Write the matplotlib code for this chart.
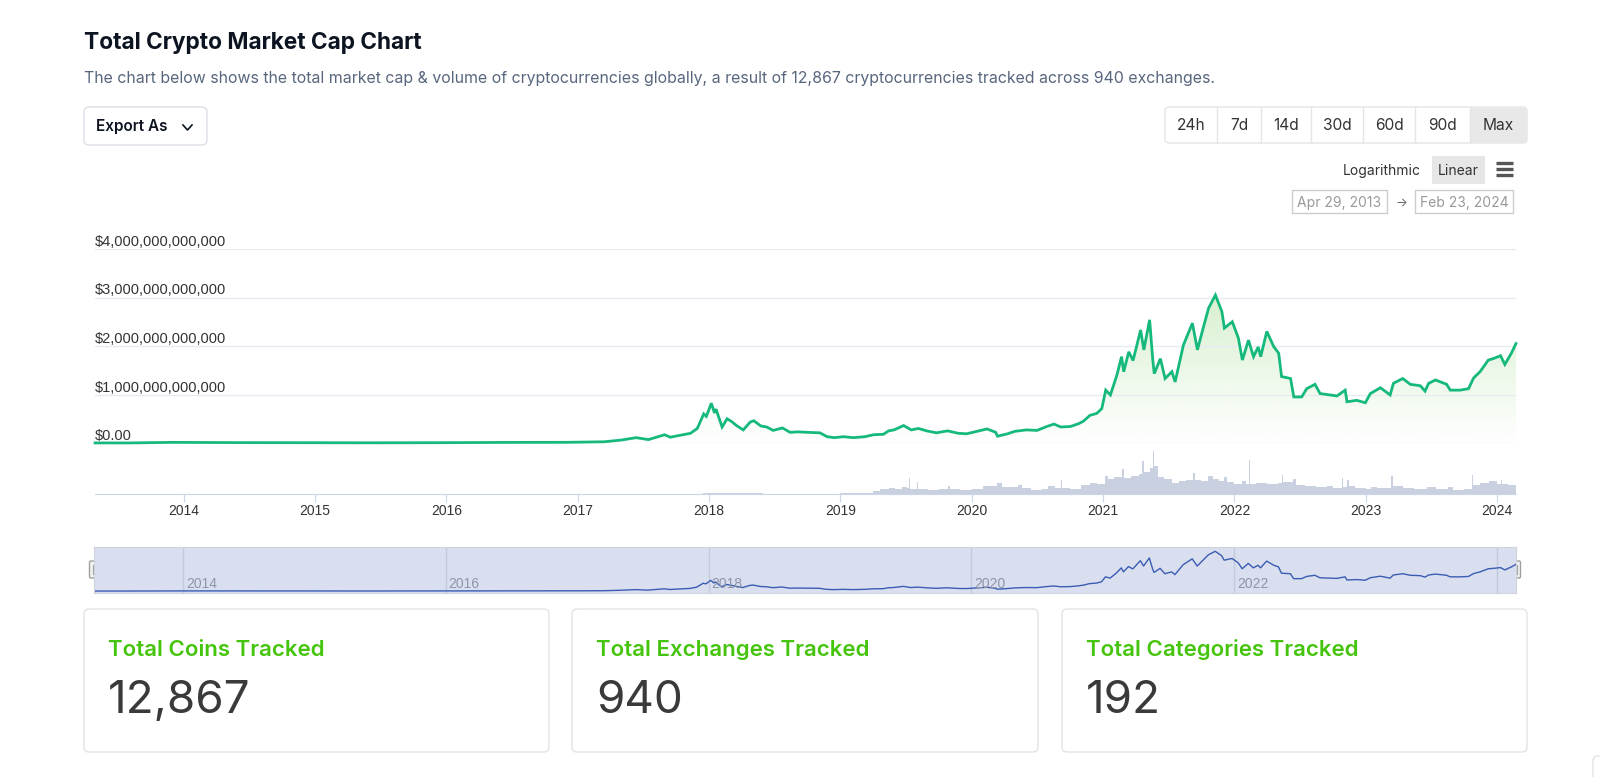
import numpy as np
import pandas as pd
import matplotlib
matplotlib.use('Agg')
import matplotlib.pyplot as plt
import matplotlib.dates as mdates
from matplotlib.patches import FancyBboxPatch, Rectangle
from matplotlib.ticker import FuncFormatter

# total market cap, trillions USD
cap_dates = ['2013-04-29', '2013-08-01', '2013-11-30', '2014-02-01', '2014-06-01', '2014-12-01',
             '2015-06-01', '2015-12-01', '2016-06-15', '2016-12-01', '2017-01-09', '2017-03-15',
             '2017-05-01', '2017-06-12', '2017-07-16', '2017-08-30', '2017-09-15', '2017-10-20',
             '2017-11-10', '2017-11-29', '2017-12-17', '2017-12-24', '2017-12-30', '2018-01-07',
             '2018-01-16', '2018-01-20', '2018-02-06', '2018-02-20', '2018-03-05', '2018-03-18',
             '2018-04-06', '2018-04-25', '2018-05-05', '2018-05-25', '2018-06-10', '2018-06-28',
             '2018-07-24', '2018-08-14', '2018-09-05', '2018-10-01', '2018-11-05', '2018-11-25',
             '2018-12-15', '2019-01-10', '2019-02-06', '2019-03-10', '2019-04-03', '2019-05-01',
             '2019-05-15', '2019-05-30', '2019-06-26', '2019-07-17', '2019-08-06', '2019-08-29',
             '2019-09-25', '2019-10-26', '2019-11-25', '2019-12-18', '2020-01-15', '2020-02-13',
             '2020-03-08', '2020-03-13', '2020-04-10', '2020-04-30', '2020-06-01', '2020-07-01',
             '2020-07-28', '2020-08-17', '2020-09-05', '2020-10-02', '2020-10-25', '2020-11-07',
             '2020-11-25', '2020-12-14', '2020-12-28', '2021-01-08', '2021-01-21', '2021-02-08',
             '2021-02-21', '2021-02-27', '2021-03-13', '2021-03-25', '2021-04-15', '2021-04-24',
             '2021-05-10', '2021-05-19', '2021-05-23', '2021-06-09', '2021-06-22', '2021-07-11',
             '2021-07-20', '2021-08-12', '2021-09-06', '2021-09-20', '2021-10-06', '2021-10-21',
             '2021-11-09', '2021-11-27', '2021-12-04', '2021-12-26', '2022-01-12', '2022-01-23',
             '2022-02-09', '2022-02-23', '2022-03-08', '2022-03-15', '2022-04-01', '2022-04-20',
             '2022-05-04', '2022-05-12', '2022-06-06', '2022-06-15', '2022-07-07', '2022-07-21',
             '2022-08-13', '2022-08-27', '2022-09-24', '2022-10-13', '2022-11-05', '2022-11-10',
             '2022-12-07', '2022-12-31', '2023-01-14', '2023-02-11', '2023-03-10', '2023-03-19',
             '2023-04-14', '2023-05-05', '2023-06-02', '2023-06-15', '2023-06-25', '2023-07-14',
             '2023-08-14', '2023-08-24', '2023-09-21', '2023-10-14', '2023-10-28', '2023-11-15',
             '2023-12-08', '2023-12-22', '2024-01-11', '2024-01-23', '2024-02-10', '2024-02-23']
cap_vals = [0.0015, 0.0013, 0.013, 0.011, 0.008, 0.005,
            0.004, 0.006, 0.012, 0.014, 0.018, 0.025,
            0.06, 0.11, 0.07, 0.17, 0.12, 0.17,
            0.20, 0.30, 0.60, 0.55, 0.66, 0.82,
            0.62, 0.70, 0.33, 0.50, 0.44, 0.36,
            0.27, 0.43, 0.46, 0.35, 0.33, 0.26,
            0.31, 0.22, 0.23, 0.22, 0.21, 0.13,
            0.11, 0.13, 0.11, 0.13, 0.17, 0.18,
            0.25, 0.27, 0.36, 0.27, 0.30, 0.25,
            0.21, 0.25, 0.20, 0.19, 0.24, 0.29,
            0.22, 0.14, 0.19, 0.24, 0.27, 0.26,
            0.34, 0.39, 0.33, 0.34, 0.40, 0.45,
            0.57, 0.61, 0.71, 1.09, 0.99, 1.40,
            1.78, 1.47, 1.88, 1.70, 2.33, 1.92,
            2.54, 1.70, 1.43, 1.74, 1.33, 1.47,
            1.26, 2.02, 2.47, 1.92, 2.37, 2.78,
            3.05, 2.71, 2.37, 2.50, 2.16, 1.71,
            2.12, 1.78, 1.98, 1.78, 2.30, 1.99,
            1.85, 1.37, 1.33, 0.95, 0.95, 1.12,
            1.21, 1.02, 0.99, 0.97, 1.09, 0.85,
            0.88, 0.83, 1.02, 1.14, 0.99, 1.23,
            1.33, 1.21, 1.18, 1.07, 1.23, 1.30,
            1.21, 1.09, 1.09, 1.12, 1.34, 1.47,
            1.71, 1.74, 1.80, 1.62, 1.85, 2.05]

# total volume, billions USD
vol_dates = ['2013-04-29', '2017-01-01', '2017-06-01', '2017-11-15', '2017-12-15', '2018-01-10',
             '2018-02-15', '2018-06-01', '2018-12-01', '2019-01-01', '2019-04-01', '2019-04-20',
             '2019-05-15', '2019-06-01', '2019-06-20', '2019-07-05', '2019-07-12', '2019-07-15',
             '2019-07-25', '2019-08-01', '2019-08-04', '2019-09-01', '2019-10-01', '2019-10-26',
             '2019-11-01', '2019-12-01', '2020-01-01', '2020-02-01', '2020-03-01', '2020-03-12',
             '2020-03-25', '2020-04-15', '2020-05-10', '2020-05-20', '2020-06-15', '2020-07-15',
             '2020-08-01', '2020-08-20', '2020-09-05', '2020-09-08', '2020-10-01', '2020-11-01',
             '2020-11-25', '2020-12-15', '2021-01-05', '2021-01-15', '2021-02-01', '2021-02-22',
             '2021-03-01', '2021-03-20', '2021-04-10', '2021-04-18', '2021-04-25', '2021-05-10',
             '2021-05-19', '2021-05-22', '2021-06-01', '2021-06-20', '2021-07-10', '2021-08-01',
             '2021-08-20', '2021-09-07', '2021-09-12', '2021-10-01', '2021-10-20', '2021-11-01',
             '2021-11-20', '2021-12-04', '2021-12-10', '2022-01-01', '2022-01-22', '2022-02-01',
             '2022-02-10', '2022-02-12', '2022-03-01', '2022-04-01', '2022-05-01', '2022-05-12',
             '2022-05-16', '2022-06-13', '2022-06-20', '2022-07-15', '2022-08-15', '2022-09-15',
             '2022-10-01', '2022-10-26', '2022-10-29', '2022-11-09', '2022-11-15', '2022-12-01',
             '2023-01-01', '2023-01-15', '2023-02-01', '2023-03-13', '2023-03-17', '2023-04-15',
             '2023-05-15', '2023-06-20', '2023-07-15', '2023-08-17', '2023-09-01', '2023-10-01',
             '2023-10-24', '2023-10-27', '2023-11-15', '2023-12-10', '2024-01-01', '2024-01-11',
             '2024-01-15', '2024-02-01', '2024-02-23']
vol_vals = [0, 1, 2, 5, 12, 15,
            8, 4, 4, 15, 30, 55,
            60, 50, 70, 60, 160, 55,
            50, 120, 50, 45, 50, 80,
            50, 40, 55, 85, 80, 110,
            75, 70, 90, 60, 45, 55,
            80, 65, 140, 60, 50, 90,
            110, 100, 180, 150, 170, 250,
            160, 180, 200, 330, 220, 260,
            430, 280, 170, 150, 110, 130,
            140, 210, 140, 130, 180, 150,
            130, 170, 120, 100, 130, 100,
            340, 100, 110, 100, 110, 190,
            120, 150, 90, 80, 70, 80,
            60, 160, 70, 140, 80, 60,
            50, 70, 60, 180, 80, 65,
            50, 70, 55, 70, 45, 55,
            190, 90, 110, 130, 100, 140,
            100, 90, 100]

year_ticks = list(range(2014, 2025))
nav_years = [2014, 2016, 2018, 2020, 2022, 2024]
nav_labels = ['2014', '2016', '2018', '2020', '2022']
range_buttons = ['24h', '7d', '14d', '30d', '60d', '90d', 'Max']
date_from, date_to = 'Apr 29, 2013', 'Feb 23, 2024'
card_titles = ['Total Coins Tracked', 'Total Exchanges Tracked', 'Total Categories Tracked']
card_values = ['12,867', '940', '192']

W, H = 1600, 777
UI = ['Inter', 'DejaVu Sans']
AX = ['Liberation Sans', 'DejaVu Sans']
GREEN = '#16b97c'

fig = plt.figure(figsize=(W / 100, H / 100), dpi=100)
fig.patch.set_facecolor('white')


def px_axes(x0, y0, x1, y1):
    return fig.add_axes([x0 / W, 1 - y1 / H, (x1 - x0) / W, (y1 - y0) / H])


# page layer in pixel coords for the surrounding UI
page = px_axes(0, 0, W, H)
page.set_xlim(0, W)
page.set_ylim(H, 0)
page.axis('off')


def box(x0, y0, x1, y1, ec='#e3e3e3', fc='white', r=4, lw=1.0, z=1):
    page.add_patch(FancyBboxPatch((x0, y0), x1 - x0, y1 - y0,
                                  boxstyle=f'round,pad=0,rounding_size={r}',
                                  ec=ec, fc=fc, lw=lw, zorder=z))


page.text(84, 43, 'Total Crypto Market Cap Chart', fontsize=16.3, fontweight='bold',
          color='#0d1421', va='center', family=UI)
page.text(84, 79, 'The chart below shows the total market cap & volume of cryptocurrencies globally, '
          'a result of 12,867 cryptocurrencies tracked across 940 exchanges.',
          fontsize=11.45, color='#58667e', va='center', family=UI)

# export button
box(84, 107, 207, 145, ec='#dcdfe6', r=5)
page.text(96, 127, 'Export As', fontsize=11, color='#0d1421', va='center', family=UI,
          fontweight='semibold')
page.plot([183, 187.5, 192], [125, 130, 125], color='#0d1421', lw=1.2)

# range buttons
edges = [1165, 1217, 1261, 1311, 1363, 1415, 1470, 1527]
box(edges[0], 107, edges[-1], 143, ec='#e5e5e5', r=4)
page.add_patch(Rectangle((edges[-2], 107.5), edges[-1] - edges[-2] - 0.5, 35, fc='#e8e8e8', ec='none', zorder=2))
for i, lab in enumerate(range_buttons):
    if i > 0:
        page.plot([edges[i], edges[i]], [107, 143], color='#e5e5e5', lw=1, zorder=3)
    page.text((edges[i] + edges[i + 1]) / 2, 126, lab, fontsize=11.2, color='#333333',
              ha='center', va='center', family=UI, zorder=4)

page.text(1421, 171, 'Logarithmic', fontsize=10, color='#333333', ha='right', va='center', family=UI)
page.add_patch(Rectangle((1432, 156), 53, 28, fc='#e6e6e6', ec='none'))
page.text(1458, 171, 'Linear', fontsize=10, color='#333333', ha='center', va='center', family=UI)
for yy in (163, 169, 175):
    page.plot([1496, 1513], [yy, yy], color='#555555', lw=2.4, solid_capstyle='butt')

page.add_patch(Rectangle((1292, 190), 95, 23, fc='white', ec='#cccccc', lw=1))
page.add_patch(Rectangle((1415, 190), 98, 23, fc='white', ec='#cccccc', lw=1))
page.text(1339.5, 203, date_from, fontsize=10, color='#999999', ha='center', va='center', family=UI)
page.text(1464, 203, date_to, fontsize=10, color='#999999', ha='center', va='center', family=UI)
page.text(1401, 203, '\u2192', fontsize=9, color='#666666', ha='center', va='center', family=UI)

# ---- main chart
x = mdates.date2num(pd.to_datetime(cap_dates))
y = np.array(cap_vals) * 1e12
xv = mdates.date2num(pd.to_datetime(vol_dates))
yv = np.array(vol_vals)
x0, x1 = mdates.date2num(pd.Timestamp('2013-04-29')), mdates.date2num(pd.Timestamp('2024-02-23'))

vol_ax = px_axes(95, 445, 1516, 494)
vol_ax.fill_between(xv, yv, 0, step='post', color='#c9d1e0', lw=0)
vol_ax.set_xlim(x0, x1)
vol_ax.set_ylim(0, 490)
vol_ax.set_facecolor('none')
for s in ['top', 'left', 'right']:
    vol_ax.spines[s].set_visible(False)
vol_ax.spines['bottom'].set_color('#ccd6eb')
vol_ax.set_yticks([])
vol_ax.set_xticks(mdates.date2num(pd.to_datetime([f'{yr}-01-01' for yr in year_ticks])))
vol_ax.set_xticklabels([str(yr) for yr in year_ticks], family=AX)
vol_ax.tick_params(axis='x', length=6, color='#ccd6eb', labelsize=10, labelcolor='#333333', pad=1.5)

cap_ax = px_axes(95, 249, 1516, 443)
cap_ax.set_facecolor('none')
poly = cap_ax.fill_between(x, y, 0, color='none', lw=0)
grad = np.zeros((256, 1, 4))
grad[..., 0], grad[..., 1], grad[..., 2] = 190 / 255, 230 / 255, 175 / 255
grad[..., 3] = np.linspace(0, 0.78, 256)[:, None]
img = cap_ax.imshow(grad, extent=[x0, x1, 0, 4e12], origin='lower', aspect='auto', zorder=1)
img.set_clip_path(poly.get_paths()[0], transform=cap_ax.transData)
cap_ax.plot(x, y, color=GREEN, lw=2.0, zorder=3, clip_on=False, solid_joinstyle='miter')
cap_ax.set_xlim(x0, x1)
cap_ax.set_ylim(0, 4e12)
cap_ax.set_yticks(np.arange(0, 5) * 1e12)
cap_ax.yaxis.set_major_formatter(FuncFormatter(lambda v, _: '$0.00' if v == 0 else f'${v:,.0f}'))
cap_ax.grid(axis='y', color='#e6ebf2', lw=1)
cap_ax.set_xticks([])
for s in cap_ax.spines.values():
    s.set_visible(False)
cap_ax.tick_params(axis='y', length=0, pad=0, labelsize=10.5, labelcolor='#333333')
for lab in cap_ax.get_yticklabels():
    lab.set_horizontalalignment('left')
    lab.set_verticalalignment('bottom')
    lab.set_family(AX)

# ---- navigator
nav = px_axes(94, 547, 1516, 593)
nav.set_facecolor('#d9dfef')
nav.plot(x, y, color='#3a5cb2', lw=1.0)
nav.set_xlim(x0, x1)
nav.set_ylim(-0.15e12, 3.38e12)
nav_x = mdates.date2num(pd.to_datetime([f'{yr}-01-01' for yr in nav_years]))
nav.set_xticks(nav_x)
nav.set_xticklabels([])
nav.set_yticks([])
nav.tick_params(axis='x', length=0)
nav.grid(axis='x', color='#c3cadb', lw=1)
for s in nav.spines.values():
    s.set_color('#cfd3dc')
for xx, lab in zip(nav_x, nav_labels):
    nav.annotate(lab, (xx, 0), xycoords=('data', 'axes fraction'), xytext=(3, 2),
                 textcoords='offset pixels', ha='left', va='bottom', fontsize=10,
                 color='#8e96a6', family=AX)
for hx in (94, 1516):
    box(hx - 4.5, 561, hx + 4.5, 578, ec='#a0a0a0', fc='#f2f2f2', r=1.5, z=5)
    page.plot([hx - 1.2, hx - 1.2], [565, 574], color='#a0a0a0', lw=0.8, zorder=6)
    page.plot([hx + 1.2, hx + 1.2], [565, 574], color='#a0a0a0', lw=0.8, zorder=6)

# ---- stat cards
card_x = [(84, 549), (572, 1038), (1062, 1527)]
for (cx0, cx1), t, v in zip(card_x, card_titles, card_values):
    box(cx0, 609, cx1, 752, ec='#e3e3e3', r=5)
    page.text(cx0 + 24, 650, t, fontsize=16, color='#44c40c', va='center', family=UI,
              fontweight='semibold')
    page.text(cx0 + 24, 701, v, fontsize=33, color='#3a3a3a', va='center', family=UI)

box(1593, 756, 1640, 800, ec='#e3e3e3', r=5)

fig.savefig('out.png', dpi=100, facecolor='white')
